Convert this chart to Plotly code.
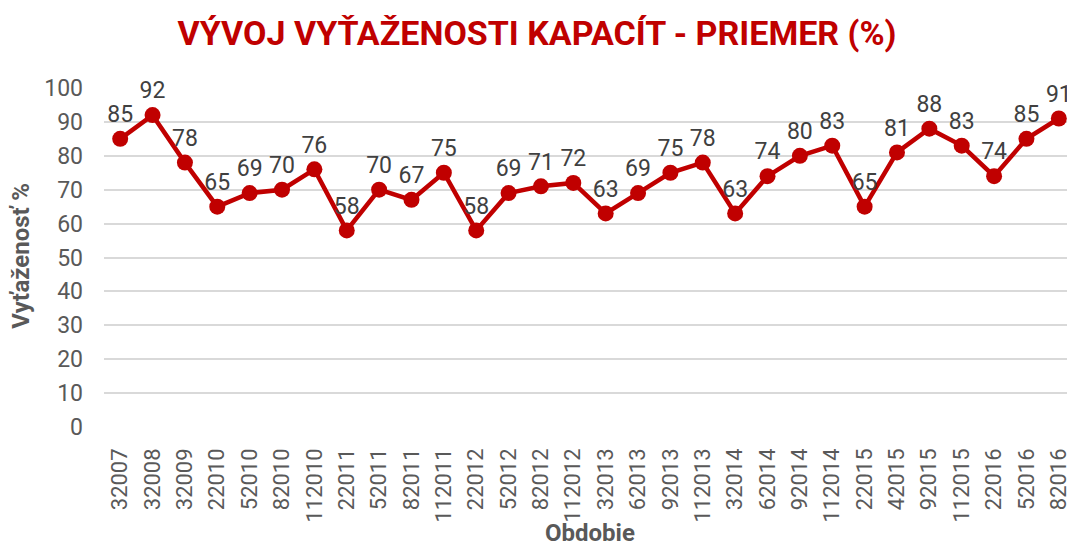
import plotly.graph_objects as go

categories = ["32007", "32008", "32009", "22010", "52010", "82010", "112010", "22011", "52011", "82011",
              "112011", "22012", "52012", "82012", "112012", "32013", "62013", "92013", "112013", "32014",
              "62014", "92014", "112014", "22015", "42015", "92015", "112015", "22016", "52016", "82016"]
values = [85, 92, 78, 65, 69, 70, 76, 58, 70, 67, 75, 58, 69, 71, 72, 63, 69, 75, 78, 63,
          74, 80, 83, 65, 81, 88, 83, 74, 85, 91]
y_ticks = [0, 10, 20, 30, 40, 50, 60, 70, 80, 90, 100]

RED = "#C00000"
GRAY = "#595959"
FONT = "Roboto"
# page has an 8px body margin, so the figure is drawn 8px in from the top-left
W, H = 1067, 538
L, R, T, B = 96, 0, 80, 119
PW, PH = W - L - R, H - T - B

fig = go.Figure(go.Scatter(
    x=categories, y=values, mode="lines+markers+text",
    line=dict(color=RED, width=4.5),
    marker=dict(color=RED, size=16),
    text=[str(v) for v in values], textposition="top center",
    textfont=dict(family=FONT, size=23, color="#404040"),
    cliponaxis=False, showlegend=False,
))

fig.update_layout(
    width=W, height=H,
    margin=dict(l=L, r=R, t=T, b=B, autoexpand=False),
    paper_bgcolor="white", plot_bgcolor="white",
    title=dict(text="<b>VÝVOJ VYŤAŽENOSTI KAPACÍT - PRIEMER (%)</b>", x=529 / W, xanchor="center",
               y=1 - 25 / H, yanchor="middle",
               font=dict(family=FONT, size=34, color=RED)),
    xaxis=dict(type="category", range=[-0.5, len(categories) - 0.5], tickangle=-90,
               showgrid=False, showline=False, ticks="",
               automargin=False, ticklabelstandoff=16,
               tickfont=dict(family=FONT, size=22, color=GRAY)),
    yaxis=dict(range=[0, 100], tickvals=y_ticks, showgrid=True, gridcolor="#D9D9D9", gridwidth=2,
               zeroline=False, showline=False, ticks="", automargin=False,
               tickfont=dict(family=FONT, size=23, color=GRAY), ticklabelstandoff=20),
    annotations=[
        dict(text="<b>Obdobie</b>", xref="paper", yref="paper", x=(590 - 104) / PW,
             y=-(533 - 427) / PH, xanchor="center", yanchor="middle", showarrow=False,
             font=dict(family=FONT, size=24, color=GRAY)),
        dict(text="<b>Vyťaženosť %</b>", xref="paper", yref="paper", x=-(104 - 21) / PW,
             y=0.505, xanchor="center", yanchor="middle", textangle=-90, showarrow=False,
             font=dict(family=FONT, size=24, color=GRAY)),
    ],
)

fig.write_html("out.html")
